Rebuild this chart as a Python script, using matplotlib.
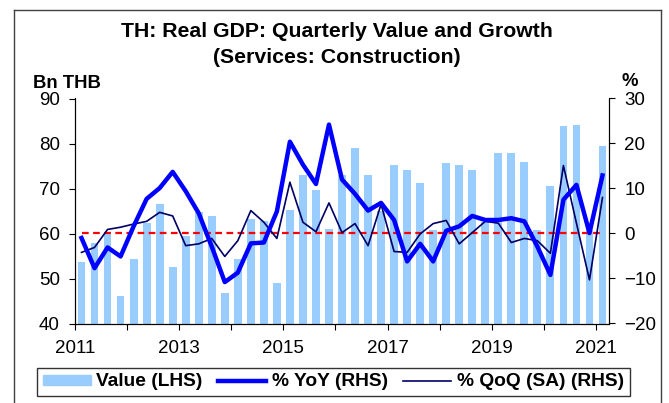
import matplotlib.pyplot as plt
from matplotlib.lines import Line2D
from matplotlib.patches import Patch

plt.rcParams['font.family'] = ['Liberation Sans', 'DejaVu Sans']

# quarterly data 2011Q1 .. 2021Q1
start_year = 2011
value = [53.7, 57.8, 60.4, 46.1, 54.4, 62.3, 66.6, 52.6, 59.5, 64.8, 64.0, 46.8,
         54.3, 63.3, 62.7, 49.1, 65.3, 72.9, 69.6, 60.9, 73.1, 79.1, 73.0, 65.0,
         75.2, 74.2, 71.2, 60.7, 75.7, 75.3, 74.1, 62.5, 78.0, 77.9, 76.0, 60.7,
         70.6, 83.8, 84.2, 60.8, 79.5]
yoy = [-1.0, -7.7, -3.1, -5.1, 1.6, 7.7, 10.1, 13.7, 9.4, 4.5, -2.9, -10.8,
       -8.7, -2.2, -2.0, 4.9, 20.4, 15.3, 11.0, 24.2, 12.0, 8.8, 5.1, 6.8,
       3.0, -6.2, -2.3, -6.2, 0.6, 1.6, 3.9, 3.0, 3.0, 3.4, 2.7, -2.9,
       -9.2, 7.5, 10.8, 0.1, 12.9]
qoq = [-4.2, -3.1, 0.9, 1.4, 2.1, 2.7, 4.7, 3.9, -2.7, -2.3, -1.1, -5.1,
       -1.6, 5.1, 2.5, -1.1, 11.4, 2.5, 0.4, 6.8, 0.2, 2.2, -2.7, 6.5,
       -4.0, -4.2, -0.1, 2.2, 2.9, -2.3, 0.2, 2.7, 2.3, -2.0, -1.1, -1.6,
       -4.4, 15.1, 2.3, -10.3, 8.0]
year_ticks = list(range(2011, 2022))
year_labels = [str(y) if y % 2 == 1 else '' for y in year_ticks]

x = [start_year + 0.25 * i + 0.125 for i in range(len(value))]

fig = plt.figure(figsize=(6.69, 4.03), dpi=100)
ax = fig.add_axes([75 / 669, 1 - 323.5 / 403, 534 / 669, 225 / 403])
ax2 = ax.twinx()

ax.bar(x, value, width=0.15, color='#99CCFF', zorder=2)
ax.set_ylim(40, 90)
ax.set_yticks(range(40, 91, 10))
ax.set_xlim(2011, 2021.25)
ax.set_xticks(year_ticks, year_labels)

ax2.plot([x[0], x[-1]], [0, 0], color='#FF0000', lw=1.6, ls=(0, (3, 2)), zorder=1)
ax2.plot(x, qoq, color='#000066', lw=1.2, zorder=2)
ax2.plot(x, yoy, color='#0000FF', lw=3.2, zorder=3)
ax2.set_ylim(-20, 30)
ax2.set_yticks(range(-20, 31, 10))

for a in (ax, ax2):
    a.spines['top'].set_visible(False)
    a.tick_params(direction='out', length=4, width=0.8, labelsize=13.5, pad=7)
ax.tick_params(axis='x', pad=8)

fig.text(0.504, 1 - 31.5 / 403, 'TH: Real GDP: Quarterly Value and Growth',
         ha='center', va='center', fontsize=15.3, fontweight='bold')
fig.text(0.504, 1 - 57.5 / 403, '(Services: Construction)',
         ha='center', va='center', fontsize=15.3, fontweight='bold')
fig.text(33 / 669, 1 - 83 / 403, 'Bn THB', ha='left', va='center',
         fontsize=13.3, fontweight='bold')
fig.text(630 / 669, 1 - 82 / 403, '%', ha='center', va='center',
         fontsize=13.3, fontweight='bold')

handles = [Patch(color='#99CCFF'),
           Line2D([], [], color='#0000FF', lw=3.2),
           Line2D([], [], color='#000066', lw=1.2)]
labels = ['Value (LHS)', '% YoY (RHS)', '% QoQ (SA) (RHS)']
leg = fig.legend(handles, labels, loc='center', ncol=3,
                 bbox_to_anchor=(37 / 669, 1 - 397.5 / 403, 593 / 669, 31 / 403),
                 mode='expand', fancybox=False, edgecolor='black',
                 prop={'weight': 'bold', 'size': 13.8}, handlelength=2.5,
                 handleheight=0.45, handletextpad=0.3, columnspacing=0.6,
                 borderpad=0.3, borderaxespad=0)
leg.get_frame().set_linewidth(1.0)

# outer frame
for xs, ys in [([13.5, 13.5], [403, 9.5]), ([13.5, 660.5], [9.5, 9.5]),
               ([660.5, 660.5], [9.5, 403])]:
    fig.add_artist(Line2D([v / 669 for v in xs], [1 - v / 403 for v in ys],
                          color='#404040', lw=1.0))

fig.savefig('out.png', dpi=100)
